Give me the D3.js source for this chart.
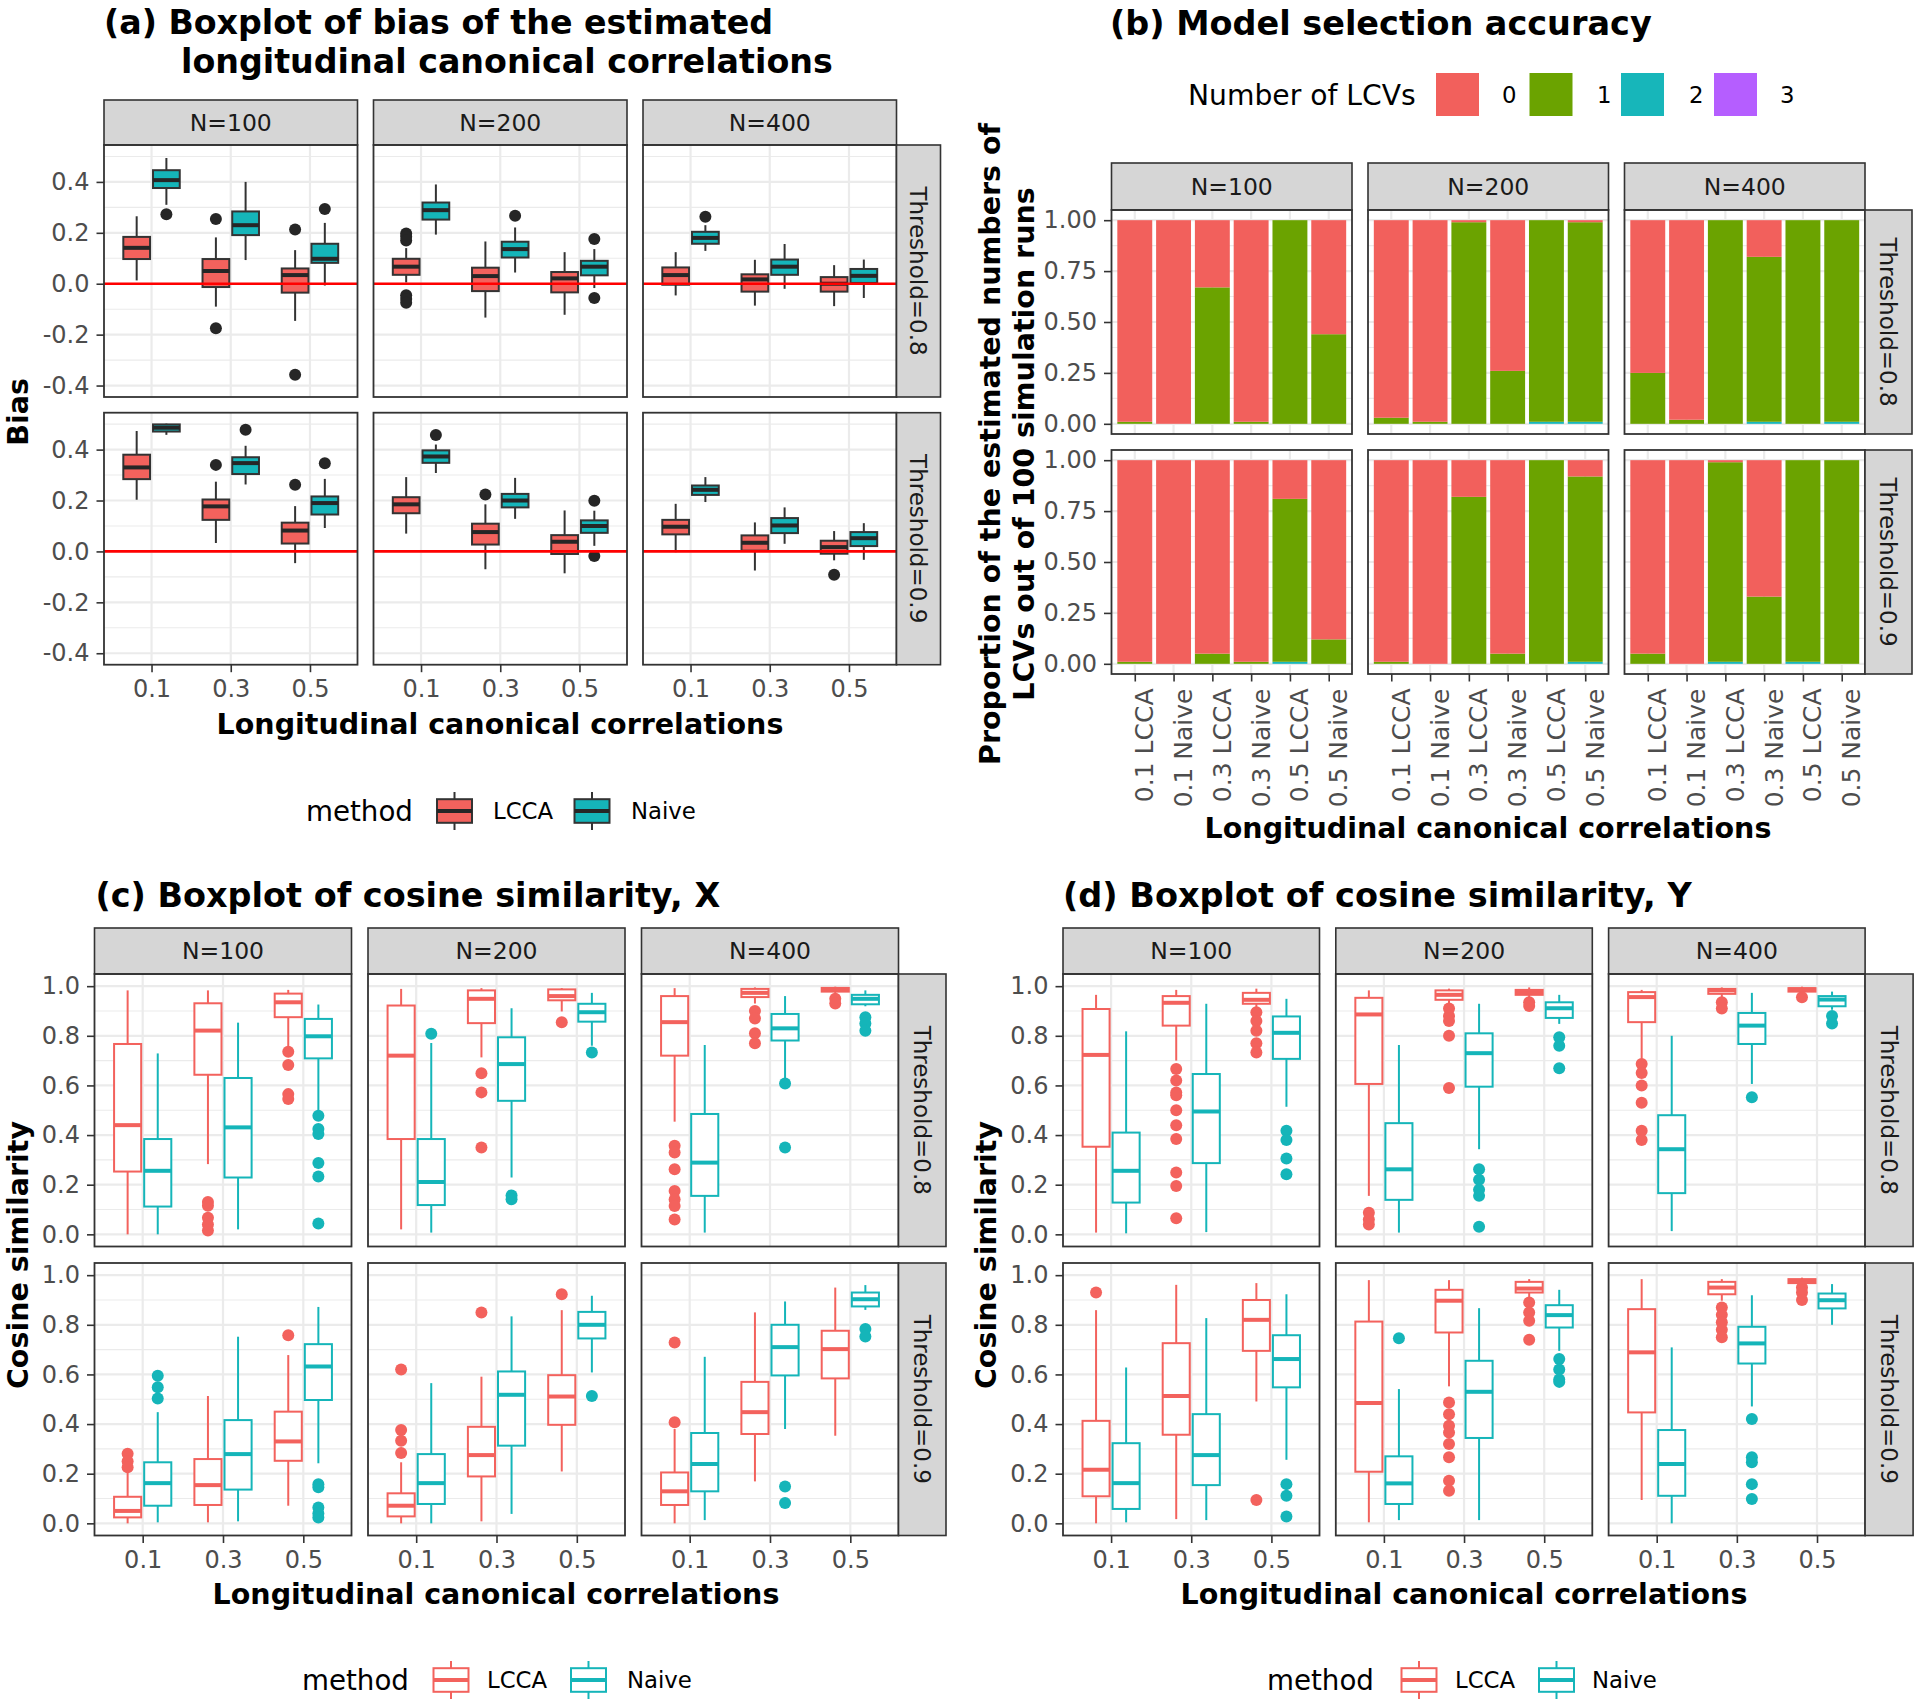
<!DOCTYPE html>
<html><head><meta charset="utf-8">
<script src="https://cdn.jsdelivr.net/npm/d3@7"></script>
<style>body{margin:0;background:#fff} svg{display:block} text{font-family:"DejaVu Sans",Verdana,sans-serif}</style>
</head><body><svg id="chart" width="1920" height="1707"></svg>
<script>
// ---------------- data ----------------
const thresholds = ["0.8", "0.9"];
const sampleSizes = ["100", "200", "400"];
const lccLevels = ["0.1", "0.3", "0.5"];
const methods = ["LCCA", "Naive"];
const lcvCounts = ["0", "1", "2", "3"];
const biasTicks = [-0.4, -0.2, 0, 0.2, 0.4];
const biasMinor = [-0.3, -0.1, 0.1, 0.3, 0.5];
const cosTicks = [0, 0.2, 0.4, 0.6, 0.8, 1.0];
const cosMinor = [0.1, 0.3, 0.5, 0.7, 0.9];
const propTicks = [0, 0.25, 0.5, 0.75, 1];
const propMinor = [0.125, 0.375, 0.625, 0.875];

// [threshold, N, lcc, method, lowerWhisker, q1, median, q3, upperWhisker, outliers]
const biasBoxes = [
  ["0.8","100","0.1","LCCA", 0.013,0.097,0.141,0.184,0.265,[]],
  ["0.8","100","0.1","Naive", 0.31,0.376,0.407,0.446,0.494,[0.273]],
  ["0.8","100","0.3","LCCA", -0.09,-0.013,0.05,0.097,0.182,[0.254,-0.175]],
  ["0.8","100","0.3","Naive", 0.093,0.191,0.23,0.284,0.40,[]],
  ["0.8","100","0.5","LCCA", -0.146,-0.035,0.034,0.06,0.132,[0.213,-0.358]],
  ["0.8","100","0.5","Naive", -0.007,0.082,0.098,0.157,0.239,[0.294]],
  ["0.8","200","0.1","LCCA", 0.005,0.035,0.067,0.098,0.14,[0.197,0.185,0.17,-0.045,-0.06,-0.075]],
  ["0.8","200","0.1","Naive", 0.193,0.252,0.289,0.319,0.39,[]],
  ["0.8","200","0.3","LCCA", -0.133,-0.029,0.03,0.063,0.166,[]],
  ["0.8","200","0.3","Naive", 0.044,0.103,0.136,0.165,0.221,[0.267]],
  ["0.8","200","0.5","LCCA", -0.122,-0.034,0.021,0.046,0.124,[]],
  ["0.8","200","0.5","Naive", -0.017,0.033,0.067,0.09,0.136,[0.176,-0.056]],
  ["0.8","400","0.1","LCCA", -0.046,-0.004,0.034,0.064,0.124,[]],
  ["0.8","400","0.1","Naive", 0.129,0.157,0.18,0.204,0.23,[0.263]],
  ["0.8","400","0.3","LCCA", -0.086,-0.031,0.017,0.037,0.094,[]],
  ["0.8","400","0.3","Naive", -0.02,0.035,0.067,0.095,0.156,[]],
  ["0.8","400","0.5","LCCA", -0.088,-0.031,0.0,0.026,0.073,[]],
  ["0.8","400","0.5","Naive", -0.056,0.003,0.031,0.058,0.095,[]],
  ["0.9","100","0.1","LCCA", 0.203,0.284,0.33,0.38,0.473,[]],
  ["0.9","100","0.1","Naive", 0.458,0.471,0.486,0.499,0.502,[]],
  ["0.9","100","0.3","LCCA", 0.033,0.124,0.177,0.204,0.274,[0.34]],
  ["0.9","100","0.3","Naive", 0.263,0.304,0.347,0.37,0.415,[0.478]],
  ["0.9","100","0.5","LCCA", -0.046,0.031,0.082,0.113,0.178,[0.262]],
  ["0.9","100","0.5","Naive", 0.092,0.145,0.19,0.216,0.285,[0.346]],
  ["0.9","200","0.1","LCCA", 0.07,0.15,0.185,0.213,0.292,[]],
  ["0.9","200","0.1","Naive", 0.308,0.348,0.373,0.397,0.42,[0.457]],
  ["0.9","200","0.3","LCCA", -0.07,0.027,0.076,0.109,0.185,[0.224]],
  ["0.9","200","0.3","Naive", 0.128,0.173,0.2,0.226,0.289,[]],
  ["0.9","200","0.5","LCCA", -0.086,-0.01,0.038,0.064,0.161,[]],
  ["0.9","200","0.5","Naive", 0.022,0.073,0.1,0.122,0.16,[0.199,-0.018]],
  ["0.9","400","0.1","LCCA", -0.003,0.067,0.097,0.124,0.187,[]],
  ["0.9","400","0.1","Naive", 0.194,0.222,0.242,0.259,0.292,[]],
  ["0.9","400","0.3","LCCA", -0.075,0.003,0.034,0.063,0.114,[]],
  ["0.9","400","0.3","Naive", 0.03,0.072,0.102,0.131,0.173,[]],
  ["0.9","400","0.5","LCCA", -0.035,-0.009,0.017,0.042,0.08,[-0.092]],
  ["0.9","400","0.5","Naive", -0.033,0.021,0.052,0.076,0.111,[]]
];

const cosXBoxes = [
  ["0.8","100","0.1","LCCA", 0.0,0.253,0.44,0.767,0.983,[]],
  ["0.8","100","0.1","Naive", 0.0,0.112,0.256,0.384,0.729,[]],
  ["0.8","100","0.3","LCCA", 0.283,0.643,0.821,0.931,0.983,[0.13,0.115,0.067,0.04,0.015]],
  ["0.8","100","0.3","Naive", 0.02,0.229,0.431,0.63,0.853,[]],
  ["0.8","100","0.5","LCCA", 0.758,0.875,0.935,0.97,0.985,[0.736,0.682,0.565,0.545]],
  ["0.8","100","0.5","Naive", 0.498,0.709,0.798,0.868,0.926,[0.478,0.424,0.404,0.287,0.233,0.044]],
  ["0.8","200","0.1","LCCA", 0.02,0.384,0.72,0.922,0.989,[]],
  ["0.8","200","0.1","Naive", 0.007,0.118,0.211,0.384,0.771,[0.808]],
  ["0.8","200","0.3","LCCA", 0.713,0.851,0.949,0.983,0.992,[0.649,0.572,0.35]],
  ["0.8","200","0.3","Naive", 0.229,0.538,0.686,0.794,0.911,[0.157,0.141]],
  ["0.8","200","0.5","LCCA", 0.898,0.943,0.96,0.987,0.992,[0.855]],
  ["0.8","200","0.5","Naive", 0.76,0.857,0.895,0.929,0.973,[0.733]],
  ["0.8","400","0.1","LCCA", 0.454,0.72,0.855,0.96,0.992,[0.357,0.33,0.262,0.175,0.14,0.114,0.06]],
  ["0.8","400","0.1","Naive", 0.007,0.155,0.289,0.485,0.763,[]],
  ["0.8","400","0.3","LCCA", 0.93,0.956,0.973,0.989,0.995,[0.9,0.87,0.81,0.77]],
  ["0.8","400","0.3","Naive", 0.626,0.781,0.83,0.888,0.96,[0.608,0.35]],
  ["0.8","400","0.5","LCCA", 0.969,0.978,0.987,0.993,0.998,[0.949,0.93]],
  ["0.8","400","0.5","Naive", 0.919,0.927,0.949,0.965,0.983,[0.875,0.85,0.82]],
  ["0.9","100","0.1","LCCA", 0.0,0.024,0.05,0.107,0.212,[0.28,0.25,0.226]],
  ["0.9","100","0.1","Naive", 0.004,0.071,0.162,0.246,0.448,[0.595,0.548,0.503]],
  ["0.9","100","0.3","LCCA", 0.004,0.074,0.154,0.259,0.513,[]],
  ["0.9","100","0.3","Naive", 0.008,0.136,0.279,0.416,0.752,[]],
  ["0.9","100","0.5","LCCA", 0.071,0.252,0.33,0.45,0.678,[0.758]],
  ["0.9","100","0.5","Naive", 0.242,0.497,0.632,0.722,0.872,[0.158,0.145,0.064,0.04,0.024]],
  ["0.9","200","0.1","LCCA", 0.0,0.028,0.071,0.121,0.246,[0.376,0.333,0.283,0.62]],
  ["0.9","200","0.1","Naive", 0.0,0.078,0.162,0.279,0.565,[]],
  ["0.9","200","0.3","LCCA", 0.008,0.189,0.275,0.389,0.591,[0.85]],
  ["0.9","200","0.3","Naive", 0.038,0.313,0.518,0.612,0.834,[]],
  ["0.9","200","0.5","LCCA", 0.209,0.397,0.511,0.597,0.859,[0.923]],
  ["0.9","200","0.5","Naive", 0.608,0.745,0.8,0.852,0.917,[0.513]],
  ["0.9","400","0.1","LCCA", 0.0,0.074,0.129,0.205,0.38,[0.407,0.729]],
  ["0.9","400","0.1","Naive", 0.013,0.129,0.239,0.364,0.671,[]],
  ["0.9","400","0.3","LCCA", 0.169,0.36,0.448,0.57,0.85,[]],
  ["0.9","400","0.3","Naive", 0.38,0.596,0.71,0.8,0.894,[0.148,0.082]],
  ["0.9","400","0.5","LCCA", 0.353,0.584,0.702,0.776,0.95,[]],
  ["0.9","400","0.5","Naive", 0.86,0.874,0.903,0.93,0.96,[0.783,0.753]]
];

const cosYBoxes = [
  ["0.8","100","0.1","LCCA", 0.007,0.353,0.723,0.908,0.965,[]],
  ["0.8","100","0.1","Naive", 0.004,0.128,0.256,0.41,0.818,[]],
  ["0.8","100","0.3","LCCA", 0.7,0.841,0.933,0.96,0.985,[0.666,0.62,0.572,0.56,0.5,0.44,0.384,0.249,0.195,0.065]],
  ["0.8","100","0.3","Naive", 0.009,0.287,0.495,0.646,0.929,[]],
  ["0.8","100","0.5","LCCA", 0.915,0.929,0.945,0.973,0.99,[0.895,0.86,0.82,0.77,0.733]],
  ["0.8","100","0.5","Naive", 0.514,0.707,0.812,0.878,0.949,[0.417,0.38,0.306,0.242]],
  ["0.8","200","0.1","LCCA", 0.155,0.606,0.886,0.953,0.983,[0.087,0.06,0.04]],
  ["0.8","200","0.1","Naive", 0.007,0.139,0.262,0.448,0.763,[]],
  ["0.8","200","0.3","LCCA", 0.929,0.945,0.965,0.983,0.99,[0.91,0.88,0.86,0.8,0.59]],
  ["0.8","200","0.3","Naive", 0.343,0.595,0.73,0.81,0.929,[0.262,0.22,0.18,0.155,0.031]],
  ["0.8","200","0.5","LCCA", 0.955,0.965,0.976,0.985,0.995,[0.935,0.92]],
  ["0.8","200","0.5","Naive", 0.848,0.872,0.911,0.935,0.965,[0.794,0.76,0.669]],
  ["0.8","400","0.1","LCCA", 0.707,0.855,0.956,0.976,0.985,[0.686,0.65,0.6,0.53,0.417,0.38]],
  ["0.8","400","0.1","Naive", 0.013,0.166,0.343,0.48,0.8,[]],
  ["0.8","400","0.3","LCCA", 0.955,0.969,0.983,0.989,0.995,[0.935,0.91]],
  ["0.8","400","0.3","Naive", 0.606,0.767,0.841,0.892,0.973,[0.552]],
  ["0.8","400","0.5","LCCA", 0.969,0.978,0.987,0.992,0.998,[0.955]],
  ["0.8","400","0.5","Naive", 0.905,0.919,0.946,0.96,0.978,[0.88,0.85]],
  ["0.9","100","0.1","LCCA", 0.0,0.109,0.216,0.413,0.859,[0.93]],
  ["0.9","100","0.1","Naive", 0.004,0.058,0.162,0.323,0.628,[]],
  ["0.9","100","0.3","LCCA", 0.017,0.357,0.513,0.726,0.961,[]],
  ["0.9","100","0.3","Naive", 0.013,0.154,0.275,0.44,0.827,[]],
  ["0.9","100","0.5","LCCA", 0.491,0.695,0.82,0.9,0.968,[0.094]],
  ["0.9","100","0.5","Naive", 0.256,0.548,0.662,0.758,0.923,[0.158,0.111,0.028]],
  ["0.9","200","0.1","LCCA", 0.004,0.208,0.485,0.813,0.98,[]],
  ["0.9","200","0.1","Naive", 0.013,0.078,0.161,0.27,0.541,[0.746]],
  ["0.9","200","0.3","LCCA", 0.552,0.769,0.897,0.941,0.98,[0.487,0.44,0.393,0.366,0.32,0.266,0.172,0.131]],
  ["0.9","200","0.3","Naive", 0.013,0.344,0.53,0.655,0.867,[]],
  ["0.9","200","0.5","LCCA", 0.91,0.93,0.946,0.973,0.984,[0.89,0.85,0.816,0.74]],
  ["0.9","200","0.5","Naive", 0.695,0.789,0.839,0.879,0.941,[0.662,0.62,0.58,0.57]],
  ["0.9","400","0.1","LCCA", 0.094,0.447,0.689,0.863,0.984,[]],
  ["0.9","400","0.1","Naive", 0.0,0.111,0.239,0.376,0.709,[]],
  ["0.9","400","0.3","LCCA", 0.897,0.923,0.95,0.973,0.984,[0.87,0.84,0.81,0.78,0.75]],
  ["0.9","400","0.3","Naive", 0.471,0.644,0.725,0.792,0.919,[0.42,0.266,0.246,0.158,0.098]],
  ["0.9","400","0.5","LCCA", 0.968,0.968,0.977,0.984,0.99,[0.95,0.93,0.9]],
  ["0.9","400","0.5","Naive", 0.8,0.866,0.899,0.926,0.964,[]]
];

// [threshold, N, lcc, method, p(0 LCVs), p(1), p(2), p(3)]
const lcvProportions = [
  ["0.8","100","0.1","LCCA",0.99,0.01,0,0], ["0.8","100","0.1","Naive",1.00,0,0,0],
  ["0.8","100","0.3","LCCA",0.33,0.67,0,0], ["0.8","100","0.3","Naive",0.99,0.01,0,0],
  ["0.8","100","0.5","LCCA",0,1.00,0,0],    ["0.8","100","0.5","Naive",0.56,0.44,0,0],
  ["0.8","200","0.1","LCCA",0.97,0.03,0,0], ["0.8","200","0.1","Naive",0.99,0.01,0,0],
  ["0.8","200","0.3","LCCA",0.01,0.99,0,0], ["0.8","200","0.3","Naive",0.74,0.26,0,0],
  ["0.8","200","0.5","LCCA",0,0.99,0.01,0], ["0.8","200","0.5","Naive",0.01,0.98,0.01,0],
  ["0.8","400","0.1","LCCA",0.75,0.25,0,0], ["0.8","400","0.1","Naive",0.98,0.02,0,0],
  ["0.8","400","0.3","LCCA",0,1.00,0,0],    ["0.8","400","0.3","Naive",0.18,0.81,0.01,0],
  ["0.8","400","0.5","LCCA",0,1.00,0,0],    ["0.8","400","0.5","Naive",0,0.99,0.01,0],
  ["0.9","100","0.1","LCCA",0.99,0.01,0,0], ["0.9","100","0.1","Naive",1.00,0,0,0],
  ["0.9","100","0.3","LCCA",0.95,0.05,0,0], ["0.9","100","0.3","Naive",0.99,0.01,0,0],
  ["0.9","100","0.5","LCCA",0.19,0.80,0.01,0], ["0.9","100","0.5","Naive",0.88,0.12,0,0],
  ["0.9","200","0.1","LCCA",0.99,0.01,0,0], ["0.9","200","0.1","Naive",1.00,0,0,0],
  ["0.9","200","0.3","LCCA",0.18,0.82,0,0], ["0.9","200","0.3","Naive",0.95,0.05,0,0],
  ["0.9","200","0.5","LCCA",0,1.00,0,0],    ["0.9","200","0.5","Naive",0.08,0.91,0.01,0],
  ["0.9","400","0.1","LCCA",0.95,0.05,0,0], ["0.9","400","0.1","Naive",1.00,0,0,0],
  ["0.9","400","0.3","LCCA",0.01,0.98,0.01,0], ["0.9","400","0.3","Naive",0.67,0.33,0,0],
  ["0.9","400","0.5","LCCA",0,0.99,0.01,0], ["0.9","400","0.5","Naive",0,1.00,0,0]
];

// ---------------- drawing ----------------
const FONT = "DejaVu Sans, Verdana, sans-serif";
const methodColor = d3.scaleOrdinal(methods, ["#F3625D", "#15B5B9"]);
const lcvColor = d3.scaleOrdinal(lcvCounts, ["#F2605C", "#6BA300", "#17B6BA", "#B55EFF"]);
const barCats = [];
lccLevels.forEach(l => methods.forEach(m => barCats.push(l + " " + m)));

const svg = d3.select("#chart");
svg.append("rect").attr("width", 1920).attr("height", 1707).attr("fill", "#fff");

function addText(g, str, x, y, o = {}) {
  const size = o.size || 24;
  const t = g.append("text").attr("x", x).attr("y", y).text(str)
    .attr("font-family", FONT).attr("font-size", size)
    .attr("fill", o.fill || "#000").attr("font-weight", o.weight || "normal")
    .attr("text-anchor", o.anchor || "start");
  if (o.center) t.attr("dy", "0.36em");
  if (o.rotate) t.attr("transform", `rotate(${o.rotate},${x},${y})`);
  if (o.width) {
    const w = t.node().getComputedTextLength();
    if (w > 0) t.attr("font-size", size * o.width / w);
  }
  return t;
}

function facetFrame(L) {
  const root = svg.append("g");
  const gGrid = root.append("g"), gGeom = root.append("g"), gTop = root.append("g");
  const facets = [];
  const lastRow = thresholds.length - 1, lastCol = sampleSizes.length - 1;
  sampleSizes.forEach((n, ci) => {
    const x0 = L.left + ci * (L.facetW + L.gap), x1 = x0 + L.facetW;
    const x = d3.scalePoint().domain(L.xDomain).range([x0, x1]).padding(0.6);
    gTop.append("rect").attr("x", x0).attr("y", L.stripTop)
      .attr("width", L.facetW).attr("height", L.rowTops[0] - L.stripTop)
      .attr("fill", "#D6D6D6").attr("stroke", "#333333").attr("stroke-width", 1.6);
    addText(gTop, "N=" + n, (x0 + x1) / 2, (L.stripTop + L.rowTops[0]) / 2,
      {size: 23.5, anchor: "middle", center: true, fill: "#1A1A1A"});
    thresholds.forEach((t, ri) => {
      const y0 = L.rowTops[ri], y1 = y0 + L.rowH;
      const y = d3.scaleLinear().domain(L.yDomain).range([y1, y0]);
      gGrid.append("rect").attr("x", x0).attr("y", y0).attr("width", L.facetW)
        .attr("height", L.rowH).attr("fill", "#fff");
      gGrid.selectAll(null).data(L.yMinor).join("line")
        .attr("x1", x0).attr("x2", x1).attr("y1", d => y(d)).attr("y2", d => y(d))
        .attr("stroke", "#EBEBEB").attr("stroke-width", 1.1);
      gGrid.selectAll(null).data(L.yTicks).join("line")
        .attr("x1", x0).attr("x2", x1).attr("y1", d => y(d)).attr("y2", d => y(d))
        .attr("stroke", "#EBEBEB").attr("stroke-width", 2.2);
      gGrid.selectAll(null).data(L.xDomain).join("line")
        .attr("x1", d => x(d)).attr("x2", d => x(d)).attr("y1", y0).attr("y2", y1)
        .attr("stroke", "#EBEBEB").attr("stroke-width", 2.2);
      gTop.append("rect").attr("x", x0).attr("y", y0).attr("width", L.facetW)
        .attr("height", L.rowH).attr("fill", "none").attr("stroke", "#333333").attr("stroke-width", 1.8);
      if (ci === 0) {
        const ax = gTop.append("g").attr("transform", `translate(${x0},0)`)
          .call(d3.axisLeft(y).tickValues(L.yTicks).tickFormat(L.yFmt).tickSize(7.5).tickPadding(7));
        styleAxis(ax);
      }
      if (ri === lastRow) {
        const ax = gTop.append("g").attr("transform", `translate(0,${y1})`)
          .call(d3.axisBottom(x).tickSize(7.5).tickPadding(8));
        styleAxis(ax);
        if (L.rotateX) {
          ax.selectAll(".tick text").attr("transform", "rotate(-90)")
            .attr("text-anchor", "end").attr("x", -14.5).attr("y", 0).attr("dy", "0.72em")
            .attr("font-size", 25);
        }
      }
      if (ci === lastCol) {
        gTop.append("rect").attr("x", x1).attr("y", y0).attr("width", L.rightW)
          .attr("height", L.rowH).attr("fill", "#D6D6D6").attr("stroke", "#333333").attr("stroke-width", 1.6);
        addText(gTop, "Threshold=" + t, x1 + L.rightW / 2, (y0 + y1) / 2,
          {size: 23, anchor: "middle", center: true, rotate: 90, fill: "#1A1A1A"});
      }
      facets.push({n, t, x, y, x0, x1, y0, y1});
    });
  });
  return {facets, gGeom, gTop};
}

function styleAxis(ax) {
  ax.select(".domain").remove();
  ax.attr("font-family", FONT).attr("font-size", 24);
  ax.selectAll(".tick line").attr("stroke", "#333333").attr("stroke-width", 1.6);
  ax.selectAll(".tick text").attr("fill", "#4D4D4D").attr("font-family", FONT).attr("font-size", 24);
}

function findFacet(frame, t, n) {
  return frame.facets.find(f => f.t === t && f.n === n);
}

function drawBoxes(frame, rows, filled) {
  rows.forEach(r => {
    const [t, n, lcc, m, lo, q1, med, q3, hi, outs] = r;
    const f = findFacet(frame, t, n);
    const step = f.x.step();
    const cx = f.x(lcc) + (m === "LCCA" ? -0.1875 : 0.1875) * step;
    const hw = 0.3375 * step / 2;
    const col = methodColor(m);
    const stroke = filled ? "#333333" : col;
    const g = frame.gGeom.append("g");
    g.selectAll(null).data(outs).join("circle")
      .attr("cx", cx).attr("cy", d => f.y(d)).attr("r", 6)
      .attr("fill", filled ? "#262626" : col);
    g.append("line").attr("x1", cx).attr("x2", cx).attr("y1", f.y(hi)).attr("y2", f.y(q3))
      .attr("stroke", stroke).attr("stroke-width", 2);
    g.append("line").attr("x1", cx).attr("x2", cx).attr("y1", f.y(q1)).attr("y2", f.y(lo))
      .attr("stroke", stroke).attr("stroke-width", 2);
    g.append("rect").attr("x", cx - hw).attr("y", f.y(q3)).attr("width", 2 * hw)
      .attr("height", Math.max(0.5, f.y(q1) - f.y(q3)))
      .attr("fill", filled ? col : "#fff").attr("stroke", stroke).attr("stroke-width", 2);
    g.append("line").attr("x1", cx - hw).attr("x2", cx + hw).attr("y1", f.y(med)).attr("y2", f.y(med))
      .attr("stroke", filled ? "#262626" : col).attr("stroke-width", 4);
  });
}

function drawBoxLegend(y, xMethod, keyXs, labelXs, filled) {
  const g = svg.append("g");
  addText(g, "method", xMethod, y, {size: 27.7, center: true});
  methods.forEach((m, i) => {
    const kx = keyXs[i], col = methodColor(m), stroke = filled ? "#333333" : col;
    g.append("line").attr("x1", kx).attr("x2", kx).attr("y1", y - 19).attr("y2", y + 19)
      .attr("stroke", stroke).attr("stroke-width", 2);
    g.append("rect").attr("x", kx - 17.5).attr("y", y - 11.8).attr("width", 35).attr("height", 23.6)
      .attr("fill", filled ? col : "#fff").attr("stroke", stroke).attr("stroke-width", 2);
    g.append("line").attr("x1", kx - 17.5).attr("x2", kx + 17.5).attr("y1", y).attr("y2", y)
      .attr("stroke", filled ? "#262626" : col).attr("stroke-width", 4);
    addText(g, m, labelXs[i], y, {size: 22.8, center: true});
  });
}

// ---------- panel (a) ----------
const gTitles = svg.append("g");
addText(gTitles, "(a) Boxplot of bias of the estimated", 104, 34, {size: 33, weight: "bold", width: 669});
addText(gTitles, "longitudinal canonical correlations", 181, 72.5, {size: 33, weight: "bold", width: 652});

const frameA = facetFrame({
  left: 104, facetW: 253.5, gap: 16, rowTops: [145, 412.7], rowH: 252, stripTop: 100, rightW: 44,
  xDomain: lccLevels, yDomain: [-0.445, 0.545], yTicks: biasTicks, yMinor: biasMinor,
  yFmt: d => d.toFixed(1)
});
drawBoxes(frameA, biasBoxes, true);
frameA.facets.forEach(f => {
  frameA.gGeom.append("line").attr("x1", f.x0).attr("x2", f.x1)
    .attr("y1", f.y(0)).attr("y2", f.y(0)).attr("stroke", "#FF0000").attr("stroke-width", 2.7);
});
const axTitleA = addText(gTitles, "Longitudinal canonical correlations", 500, 734,
  {size: 28.5, weight: "bold", anchor: "middle", width: 567});
const axSize = parseFloat(axTitleA.attr("font-size"));
addText(gTitles, "Bias", 18, 412, {size: axSize, weight: "bold", anchor: "middle", center: true, rotate: -90});
drawBoxLegend(811, 306, [454.5, 592], [493, 631], true);

// ---------- panel (b) ----------
addText(gTitles, "(b) Model selection accuracy", 1110, 35, {size: 33, weight: "bold", width: 542});
const frameB = facetFrame({
  left: 1111.5, facetW: 240.5, gap: 16, rowTops: [210, 450], rowH: 224, stripTop: 163, rightW: 47,
  xDomain: barCats, yDomain: [-0.05, 1.05], yTicks: propTicks, yMinor: propMinor,
  yFmt: d => d.toFixed(2), rotateX: true
});
const stack = d3.stack().keys(["3", "2", "1", "0"]);
thresholds.forEach(t => sampleSizes.forEach(n => {
  const f = findFacet(frameB, t, n);
  const rows = lcvProportions.filter(r => r[0] === t && r[1] === n).map(r => ({
    cat: r[2] + " " + r[3], "0": r[4], "1": r[5], "2": r[6], "3": r[7]
  }));
  const series = stack(rows);
  const bw = 0.9 * f.x.step();
  series.forEach(s => {
    frameB.gGeom.selectAll(null).data(s.filter(d => d[1] - d[0] > 0)).join("rect")
      .attr("x", d => f.x(d.data.cat) - bw / 2).attr("width", bw)
      .attr("y", d => f.y(d[1])).attr("height", d => f.y(d[0]) - f.y(d[1]))
      .attr("fill", lcvColor(s.key));
  });
}));
addText(gTitles, "Longitudinal canonical correlations", 1488, 838,
  {size: axSize, weight: "bold", anchor: "middle"});
addText(gTitles, "Proportion of the estimated numbers of", 989.5, 444,
  {size: axSize, weight: "bold", anchor: "middle", center: true, rotate: -90});
addText(gTitles, "LCVs out of 100 simulation runs", 1023.7, 444,
  {size: axSize, weight: "bold", anchor: "middle", center: true, rotate: -90});
// legend (b)
const gLegB = svg.append("g");
addText(gLegB, "Number of LCVs", 1188, 94.5, {size: 28.2, center: true});
const keyBx = [1436, 1529.5, 1621, 1714], labBx = [1502, 1597, 1689, 1780];
lcvCounts.forEach((c, i) => {
  gLegB.append("rect").attr("x", keyBx[i]).attr("y", 73).attr("width", 43).attr("height", 43)
    .attr("fill", lcvColor(c));
  addText(gLegB, c, labBx[i], 94.5, {size: 22.8, center: true});
});

// ---------- panel (c) ----------
addText(gTitles, "(c) Boxplot of cosine similarity, X", 95.5, 907, {size: 33, weight: "bold", width: 625});
const frameC = facetFrame({
  left: 94.5, facetW: 257, gap: 16.5, rowTops: [974, 1263], rowH: 272.5, stripTop: 928, rightW: 47.5,
  xDomain: lccLevels, yDomain: [-0.049, 1.049], yTicks: cosTicks, yMinor: cosMinor,
  yFmt: d => d.toFixed(1)
});
drawBoxes(frameC, cosXBoxes, false);
addText(gTitles, "Longitudinal canonical correlations", 496, 1604, {size: axSize, weight: "bold", anchor: "middle"});
addText(gTitles, "Cosine similarity", 18, 1255, {size: axSize, weight: "bold", anchor: "middle", center: true, rotate: -90});
drawBoxLegend(1680, 302, [451, 588.5], [487, 627], false);

// ---------- panel (d) ----------
addText(gTitles, "(d) Boxplot of cosine similarity, Y", 1063, 907, {size: 33, weight: "bold", width: 629});
const frameD = facetFrame({
  left: 1063, facetW: 256.5, gap: 16.3, rowTops: [974, 1263], rowH: 272.5, stripTop: 928, rightW: 48,
  xDomain: lccLevels, yDomain: [-0.049, 1.049], yTicks: cosTicks, yMinor: cosMinor,
  yFmt: d => d.toFixed(1)
});
drawBoxes(frameD, cosYBoxes, false);
addText(gTitles, "Longitudinal canonical correlations", 1464, 1604, {size: axSize, weight: "bold", anchor: "middle"});
addText(gTitles, "Cosine similarity", 986, 1255, {size: axSize, weight: "bold", anchor: "middle", center: true, rotate: -90});
drawBoxLegend(1680, 1267, [1419, 1556.5], [1455, 1592], false);
</script>
</body></html>
